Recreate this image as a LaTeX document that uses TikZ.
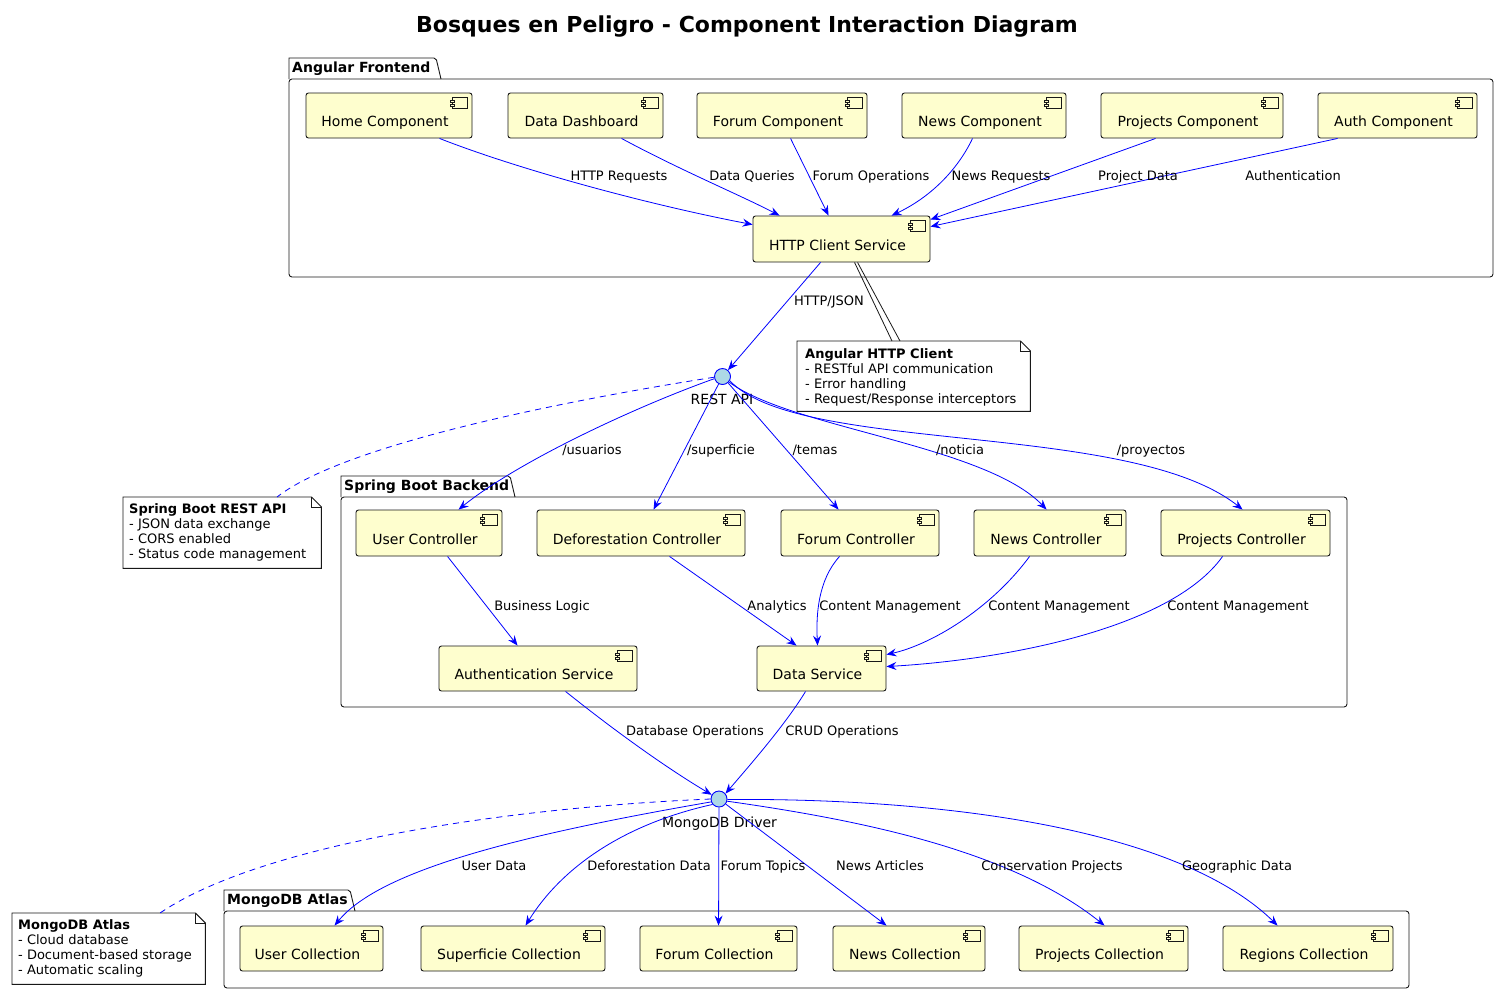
\documentclass[tikz,border=0pt]{standalone}
\usepackage{fontspec}
\setmainfont{DejaVu Sans}
\usetikzlibrary{arrows.meta,calc}
\definecolor{compfill}{HTML}{FEFECE}
\definecolor{ifill}{HTML}{ADD8E6}
\definecolor{lblue}{HTML}{0000FF}
\definecolor{edge}{HTML}{181818}
\tikzset{
  comp/.style={draw=edge, fill=compfill, rounded corners=2.5pt, line width=0.9pt,
    font=\fontsize{14}{16}\selectfont, text height=22pt, text depth=0pt, inner sep=0pt},
  icon/.style={draw=edge, line width=0.7pt},
  pkg/.style={draw=edge, line width=0.9pt},
  pkglabel/.style={font=\fontsize{14}{16}\selectfont\bfseries, anchor=west, inner sep=0pt},
  lbl/.style={font=\fontsize{13}{15}\selectfont, inner sep=0pt, text height=9.5pt, text depth=2.5pt},
  ilbl/.style={font=\fontsize{14}{16}\selectfont, inner sep=0pt, text height=10pt, text depth=3pt},
  arr/.style={draw=lblue, line width=0.8pt, -{Stealth[length=10pt,width=8pt,inset=3.5pt]}},
  notelink/.style={draw=lblue, line width=0.8pt, dash pattern=on 6pt off 5pt},
  notebg/.style={draw=none, inner sep=0pt, anchor=north west},
  noteline/.style={draw=edge, fill=white, line width=0.9pt},
  notetext/.style={font=\fontsize{13}{15}\selectfont, align=left, anchor=north west, inner sep=0pt},
  iface/.style={circle, draw=lblue, fill=ifill, line width=0.9pt, minimum size=16pt, inner sep=0pt}
}
\newcommand\mkcomp[6]{%
  \node[comp, minimum width={#4-#2}, minimum height={#5-#3}] (#1) at ({(#2+#4)/2},{(#3+#5)/2}) {#6\kern8pt};
  \draw[icon] ([xshift=-20pt,yshift=-5pt]#1.north east) rectangle ++(15pt,-11pt);
  \draw[icon,fill=compfill] ([xshift=-22pt,yshift=-7.5pt]#1.north east) rectangle ++(4pt,-2.5pt);
  \draw[icon,fill=compfill] ([xshift=-22pt,yshift=-11.5pt]#1.north east) rectangle ++(4pt,-2.5pt);
}
% name, x1, tabtop, bodytop, x2, bottom, tabright, label
\newcommand\mkpkg[8]{%
  \draw[pkg] (#2,#4) -- (#2,#3) [rounded corners=2pt] -- (#7,#3) [sharp corners] -- ({#7+5},#4);
  \draw[pkg, rounded corners=3pt] (#2,#4) -- (#5,#4) -- (#5,#6) -- (#2,#6) -- cycle;
  \node[pkglabel] (#1) at ({#2+3},{(#3+#4)/2}) {#8};
}
% name, x1,y1,x2,y2
\newcommand\mknote[5]{%
  \node[notebg, minimum width={#4-#2}, minimum height={#5-#3}] (#1) at (#2,#3) {};
  \draw[noteline] (#1.north west) -- ([xshift=-10pt]#1.north east) -- ([yshift=-10pt]#1.north east)
     -- (#1.south east) -- (#1.south west) -- cycle;
  \draw[noteline, fill=none] ([xshift=-10pt]#1.north east) -- ([xshift=-10pt,yshift=-10pt]#1.north east) -- ([yshift=-10pt]#1.north east);
}
\begin{document}
\begin{tikzpicture}[x=1pt,y=-1pt]
\useasboundingbox (0,0) rectangle (1498,994);
\fill[white] (0,0) rectangle (1498,994);

\node[font=\fontsize{22}{26}\selectfont\bfseries, inner sep=0pt] (title) at (747,27) {Bosques en Peligro - Component Interaction Diagram};

% packages
\mkpkg{pfront}{289}{58}{79}{1493}{277}{436}{Angular Frontend}
\mkpkg{pback}{341}{476}{497}{1347}{707}{510}{Spring Boot Backend}
\mkpkg{pmongo}{224}{890}{911}{1409}{988}{350}{MongoDB Atlas}

% frontend components
\mkcomp{home}{306}{93}{472}{138}{Home Component}
\mkcomp{dash}{508}{93}{663}{138}{Data Dashboard}
\mkcomp{forum}{697}{93}{867}{138}{Forum Component}
\mkcomp{news}{902}{93}{1066}{138}{News Component}
\mkcomp{proj}{1101}{93}{1283}{138}{Projects Component}
\mkcomp{auth}{1318}{93}{1477}{138}{Auth Component}
\mkcomp{http}{753}{216}{930}{262}{HTTP Client Service}

% backend components
\mkcomp{user}{356}{510}{502}{556}{User Controller}
\mkcomp{defor}{537}{510}{745}{556}{Deforestation Controller}
\mkcomp{fctrl}{781}{510}{939}{556}{Forum Controller}
\mkcomp{nctrl}{974}{510}{1126}{556}{News Controller}
\mkcomp{pctrl}{1161}{510}{1330}{556}{Projects Controller}
\mkcomp{authsvc}{439}{646}{637}{691}{Authentication Service}
\mkcomp{datasvc}{757}{646}{886}{691}{Data Service}

% collections
\mkcomp{ucol}{240}{926}{383}{971}{User Collection}
\mkcomp{scol}{421}{926}{605}{971}{Superficie Collection}
\mkcomp{fcol}{640}{926}{797}{971}{Forum Collection}
\mkcomp{ncol}{833}{926}{985}{971}{News Collection}
\mkcomp{pcol}{1019}{926}{1188}{971}{Projects Collection}
\mkcomp{rcol}{1223}{926}{1393}{971}{Regions Collection}

% interfaces
\node[iface] (rest) at (722.5,376.5) {};
\node[ilbl] (restlbl) at (722,401) {REST API};
\node[iface] (driver) at (719,799) {};
\node[ilbl] (driverlbl) at (719.5,824) {MongoDB Driver};

% notes
\mknote{note1}{797}{341}{1030}{411}
\node[notetext] (note1t) at (805,348) {\textbf{Angular HTTP Client}\\- RESTful API communication\\- Error handling\\- Request/Response interceptors};
\mknote{note2}{123}{497}{321}{568}
\node[notetext] (note2t) at (129,503) {\textbf{Spring Boot REST API}\\- JSON data exchange\\- CORS enabled\\- Status code management};
\mknote{note3}{12}{913}{205}{984}
\node[notetext] (note3t) at (18,919) {\textbf{MongoDB Atlas}\\- Cloud database\\- Document-based storage\\- Automatic scaling};

% frontend edges
\draw[arr] ($(home.south west)+(134,0)$) .. controls (520,170) and (650,205) .. ($(http.north west)+(0,9)$);
\draw[arr] ($(dash.south west)+(114,0)$) .. controls (680,170) and (740,195) .. ($(http.north west)+(27,0)$);
\draw[arr] ($(forum.south west)+(94,0)$) -- ($(http.north west)+(76,0)$);
\draw[arr] ($(news.south west)+(71,0)$) .. controls (955,175) and (925,200) .. ($(http.north west)+(139,0)$);
\draw[arr] ($(proj.south west)+(55,0)$) -- ($(http.north east)+(0,4)$);
\draw[arr] ($(auth.south west)+(20,0)$) -- ($(http.north east)+(0,11)$);
\node[lbl] (l1) at (619,177) {HTTP Requests};
\node[lbl] (l2) at (752,177) {Data Queries};
\node[lbl] (l3) at (871,177) {Forum Operations};
\node[lbl] (l4) at (1001,177) {News Requests};
\node[lbl] (l5) at (1138,177) {Project Data};
\node[lbl] (l6) at (1293,177) {Authentication};

\draw[arr] ($(http.south west)+(68,0)$) -- (rest);
\node[lbl] (l7) at (829,302) {HTTP/JSON};
\draw[draw=edge, line width=0.8pt] ($(http.south west)+(102,0)$) -- ($(note1.north west)+(95,0)$);
\draw[draw=edge, line width=0.8pt] ($(http.south west)+(105,0)$) -- ($(note1.north west)+(103,0)$);

% REST edges
\draw[arr] (rest.195) .. controls (640,405) and (520,460) .. ($(user.north west)+(103,0)$);
\draw[arr] (rest) -- ($(defor.north west)+(117,0)$);
\draw[arr] (rest) -- ($(fctrl.north west)+(58,0)$);
\draw[arr] (rest.-40) .. controls (790,428) and (985,445) .. ($(nctrl.north west)+(73,0)$);
\draw[arr] (rest.-30) .. controls (800,455) and (1130,420) .. ($(pctrl.north west)+(82,0)$);
\node[lbl] (l8) at (592,451) {/usuarios};
\node[lbl] (l9) at (721,451) {/superficie};
\node[lbl] (l10) at (815,451) {/temas};
\node[lbl] (l11) at (960,451) {/noticia};
\node[lbl] (l12) at (1151,451) {/proyectos};
\draw[notelink] (rest.185) .. controls (600,395) and (350,440) .. ($(note2.north west)+(154,0)$);

% backend edges
\draw[arr] ($(user.south west)+(92,0)$) -- ($(authsvc.north west)+(79,0)$);
\draw[arr] ($(defor.south west)+(133,0)$) -- ($(datasvc.north west)+(40,0)$);
\draw[arr] ($(fctrl.south west)+(59,0)$) .. controls (818,580) and (816,615) .. ($(datasvc.north west)+(61,0)$);
\draw[arr] ($(nctrl.south west)+(56,0)$) .. controls (990,610) and (930,645) .. ($(datasvc.north east)+(0,9)$);
\draw[arr] ($(pctrl.south west)+(62,0)$) .. controls (1170,630) and (1000,660) .. ($(datasvc.north east)+(0,21)$);
\node[lbl] (l13) at (542,607) {Business Logic};
\node[lbl] (l14) at (777,607) {Analytics};
\node[lbl] (l15) at (890,607) {Content Management};
\node[lbl] (l16) at (1059,607) {Content Management};
\node[lbl] (l17) at (1238,607) {Content Management};

\draw[arr] ($(authsvc.south west)+(127,0)$) .. controls (620,735) and (670,770) .. (driver.150);
\draw[arr] ($(datasvc.south west)+(49,0)$) .. controls (785,725) and (750,765) .. (driver.40);
\node[lbl] (l18) at (695,732) {Database Operations};
\node[lbl] (l19) at (842,732) {CRUD Operations};

% driver edges
\draw[arr] (driver.200) .. controls (520,835) and (380,870) .. ($(ucol.north west)+(95,0)$);
\draw[arr] (driver.220) .. controls (620,825) and (560,870) .. ($(scol.north west)+(105,0)$);
\draw[arr] (driver) -- ($(fcol.north west)+(79,0)$);
\draw[arr] (driver) -- ($(ncol.north west)+(54,0)$);
\draw[arr] (driver.-15) .. controls (860,820) and (1010,850) .. ($(pcol.north west)+(86,0)$);
\draw[arr] (driver.-3) .. controls (950,798) and (1180,830) .. ($(rcol.north west)+(55,0)$);
\node[lbl] (l20) at (494,867) {User Data};
\node[lbl] (l21) at (649,867) {Deforestation Data};
\node[lbl] (l22) at (763,867) {Forum Topics};
\node[lbl] (l23) at (880,867) {News Articles};
\node[lbl] (l24) at (1052,867) {Conservation Projects};
\node[lbl] (l25) at (1237,867) {Geographic Data};
\draw[notelink] (driver.180) .. controls (500,808) and (260,845) .. ($(note3.north west)+(148,0)$);
\end{tikzpicture}
\end{document}
